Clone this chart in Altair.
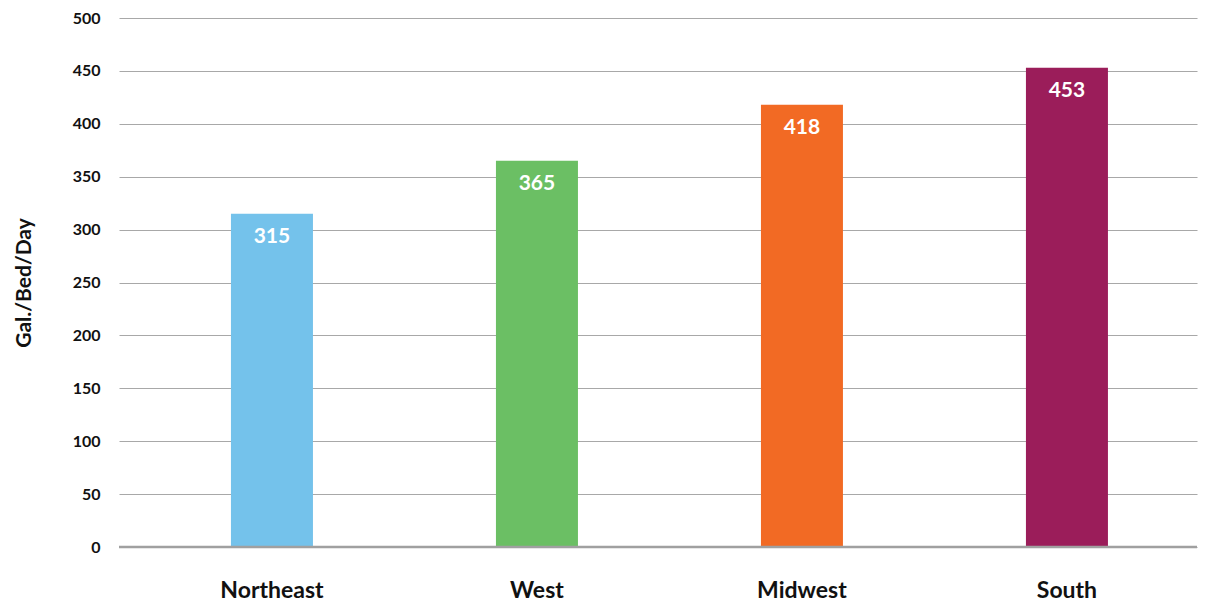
import altair as alt
import pandas as pd

regions = ["Northeast", "West", "Midwest", "South"]
values = [315, 365, 418, 453]
colors = ["#74C2EB", "#6BBF64", "#F26A24", "#9B1D5A"]

df = pd.DataFrame({"region": regions, "value": values})
FONT = "Lato"

x_enc = alt.X(
    "region:N",
    sort=regions,
    title=None,
    scale=alt.Scale(paddingInner=0.69, paddingOuter=0.379, align=0.557),
    axis=alt.Axis(
        labelFont=FONT, labelFontSize=23, labelFontWeight="bold", labelColor="#111111",
        labelAngle=0, labelPadding=32, ticks=False, domain=False, grid=False,
    ),
)
y_enc = alt.Y(
    "value:Q",
    title="Gal./Bed/Day",
    scale=alt.Scale(domain=[0, 500], nice=False),
    axis=alt.Axis(
        values=list(range(0, 501, 50)),
        labelFont=FONT, labelFontSize=16, labelFontWeight="bold", labelColor="#111111",
        labelPadding=19, ticks=False, domain=False,
        grid=True, gridColor="#a8a8a8", gridWidth=1.2,
        titleFont=FONT, titleFontSize=21, titleFontWeight="bold", titleColor="#111111",
        titlePadding=38,
    ),
)

bars = alt.Chart(df).mark_bar(size=82).encode(
    x=x_enc,
    y=y_enc,
    color=alt.Color("region:N", sort=regions,
                    scale=alt.Scale(domain=regions, range=colors), legend=None),
)

labels = alt.Chart(df).mark_text(
    font=FONT, fontSize=21, fontWeight="bold", color="white", baseline="middle", dy=23
).encode(
    x=alt.X("region:N", sort=regions),
    y="value:Q",
    text="value:Q",
)

zero = alt.Chart(pd.DataFrame({"z": [0]})).mark_rule(color="#a0a0a0", strokeWidth=2.5).encode(
    y="z:Q"
)

chart = alt.layer(bars, zero, labels).properties(
    width=1078, height=529,
    background="white",
    padding={"left": 119, "top": 18, "right": 20, "bottom": 56},
    autosize=alt.AutoSizeParams(type="none"),
).configure_view(strokeWidth=0, strokeOpacity=0)

chart.save("out.html", embed_options={"renderer": "svg", "actions": False})
